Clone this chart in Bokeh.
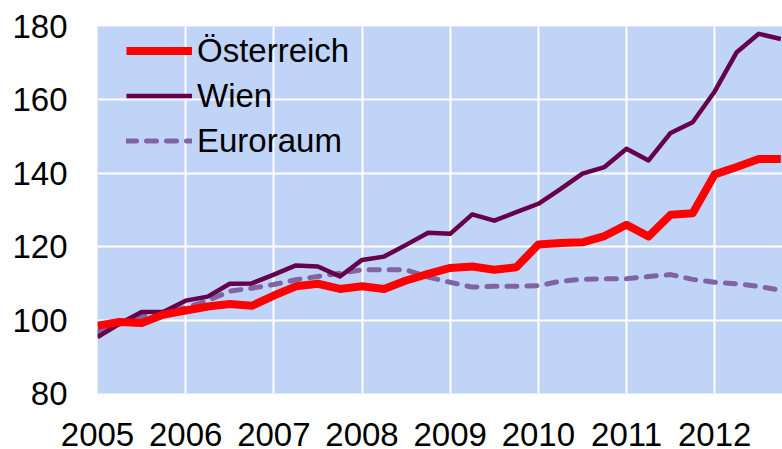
from bokeh.plotting import figure
from bokeh.models import FixedTicker, Legend, LegendItem, ColumnDataSource
from bokeh.embed import file_html
from bokeh.resources import INLINE

# Quarterly index values, 2005 Q1 .. 2012 Q4 (index 2005 = 100)
quarters = [2005 + i / 4 for i in range(32)]
oesterreich = [98.5, 99.5, 99.2, 101.5, 102.6, 103.7, 104.4, 103.9,
               106.7, 109.2, 109.9, 108.5, 109.2, 108.5, 110.8, 112.6,
               114.2, 114.6, 113.7, 114.4, 120.6, 121.0, 121.2, 122.9,
               126.0, 122.8, 128.7, 129.1, 139.7, 141.7, 143.9, 143.9]
wien = [95.4, 99.0, 102.2, 102.3, 105.3, 106.4, 109.9, 110.0,
        112.4, 114.9, 114.6, 111.9, 116.4, 117.3, 120.5, 123.8,
        123.5, 128.8, 127.1, 129.4, 131.7, 135.7, 139.9, 141.7,
        146.7, 143.5, 151.0, 153.9, 162.3, 173.0, 178.0, 176.6]
euroraum = [96.8, 99.0, 101.0, 102.2, 103.4, 105.3, 107.9, 108.7,
            109.7, 111.0, 111.9, 112.8, 113.7, 113.7, 113.7, 111.7,
            110.3, 109.0, 109.2, 109.2, 109.4, 110.6, 111.1, 111.3,
            111.3, 111.9, 112.4, 111.1, 110.3, 109.9, 109.2, 108.1]
year_ticks = [2005, 2006, 2007, 2008, 2009, 2010, 2011, 2012]
y_ticks = [80, 100, 120, 140, 160, 180]
labels = ["Österreich", "Wien", "Euroraum"]

src = ColumnDataSource(dict(x=quarters, oe=oesterreich, w=wien, eu=euroraum))

p = figure(width=782, height=449, output_backend="svg", toolbar_location=None,
           x_range=(2005, 2012.769), y_range=(80, 180),
           min_border_left=97, min_border_right=0, min_border_top=26,
           min_border_bottom=56)

p.background_fill_color = "#C0D4F8"
p.border_fill_color = "white"
p.outline_line_color = None

for ax in (p.xaxis[0], p.yaxis[0]):
    ax.axis_line_color = None
    ax.major_tick_line_color = None
    ax.minor_tick_line_color = None
    ax.major_tick_out = 0
    ax.major_tick_in = 0
    ax.major_label_text_font = "Liberation Sans"
    ax.major_label_text_font_size = "33px"
    ax.major_label_text_color = "black"

p.xaxis[0].major_label_text_line_height = 0.75
p.xaxis[0].ticker = FixedTicker(ticks=year_ticks)
p.yaxis[0].ticker = FixedTicker(ticks=y_ticks)
p.xaxis[0].major_label_standoff = 29
p.yaxis[0].major_label_standoff = 30

p.xgrid[0].ticker = FixedTicker(ticks=year_ticks)
p.ygrid[0].ticker = FixedTicker(ticks=y_ticks)
for g in (p.xgrid[0], p.ygrid[0]):
    g.grid_line_color = "white"
    g.grid_line_width = 2

r_eu = p.line("x", "eu", source=src, line_color="#8064A2", line_width=5,
              line_dash="10 10", line_cap="round")
r_w = p.line("x", "w", source=src, line_color="#660048", line_width=4.5,
             line_join="round")
r_oe = p.line("x", "oe", source=src, line_color="#FF0000", line_width=8,
              line_join="round")

legend = Legend(items=[LegendItem(label=labels[0], renderers=[r_oe]),
                       LegendItem(label=labels[1], renderers=[r_w]),
                       LegendItem(label=labels[2], renderers=[r_eu])],
                location=(29, 230))
legend.background_fill_alpha = 0
legend.border_line_alpha = 0
legend.padding = 0
legend.margin = 0
legend.spacing = 0
legend.glyph_width = 66
legend.glyph_height = 45
legend.label_height = 45
legend.label_standoff = 5
legend.label_text_font = "Liberation Sans"
legend.label_text_font_size = "33px"
legend.label_text_color = "black"
p.add_layout(legend, "center")

open("out.html", "w").write(file_html(p, INLINE))
